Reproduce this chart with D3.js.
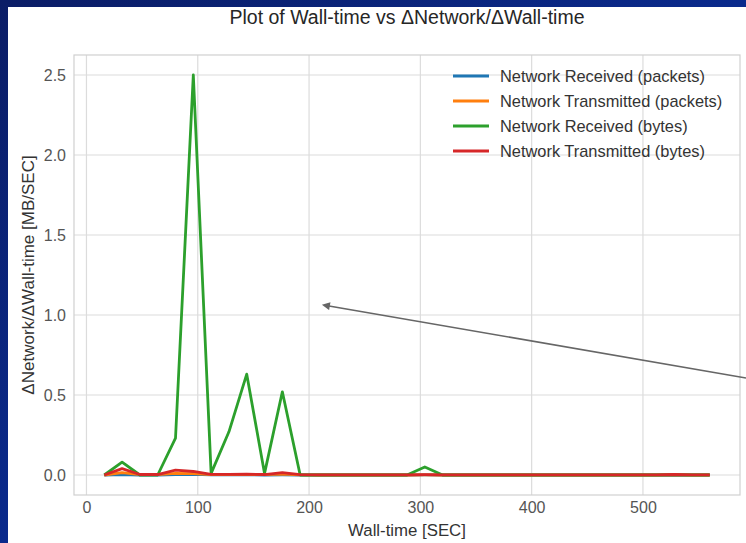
<!DOCTYPE html>
<html>
<head>
<meta charset="utf-8">
<script src="https://cdn.jsdelivr.net/npm/d3@7"></script>
<style>
  body { margin: 0; padding: 0; overflow: hidden; }
  svg { display: block; font-family: "Liberation Sans", Arial, sans-serif; }
</style>
</head>
<body>
<div id="draw-here"></div>
<script>
// wall-time samples (seconds)
var wallTime = [16, 32, 48, 64, 80, 96, 112, 128, 144, 160, 176, 192,
                208, 224, 240, 256, 272, 288, 304, 320, 336, 352, 368, 384,
                400, 416, 432, 448, 464, 480, 496, 512, 528, 544, 560];

// delta network / delta wall-time, MB/SEC
var recvPackets = [0, 0.003, 0, 0, 0.002, 0.004, 0.001, 0.001, 0.001, 0, 0.001, 0,
                   0, 0, 0, 0, 0, 0, 0.001, 0, 0, 0, 0, 0,
                   0, 0, 0, 0, 0, 0, 0, 0, 0, 0, 0];
var sentPackets = [0, 0.015, 0.002, 0.002, 0.01, 0.008, 0.002, 0.002, 0.004, 0.002, 0.006, 0.001,
                   0, 0, 0, 0, 0, 0, 0.001, 0, 0, 0, 0, 0,
                   0, 0, 0, 0, 0, 0, 0, 0, 0.002, 0, 0];
var recvBytes = [0, 0.08, 0, 0, 0.23, 2.5, 0.01, 0.27, 0.63, 0.01, 0.52, 0,
                 0, 0, 0, 0, 0, 0, 0.05, 0, 0, 0, 0, 0,
                 0, 0, 0, 0, 0, 0, 0, 0, 0, 0, 0];
var sentBytes = [0, 0.04, 0.003, 0.003, 0.03, 0.022, 0.004, 0.004, 0.005, 0.003, 0.015, 0.002,
                 0.001, 0.001, 0.001, 0.001, 0.001, 0.001, 0.002, 0.001, 0.001, 0.001, 0.001, 0.001,
                 0.001, 0.001, 0.001, 0.001, 0.001, 0.001, 0.001, 0.001, 0.003, 0.001, 0.001];

var seriesNames = ['Network Received (packets)', 'Network Transmitted (packets)',
                   'Network Received (bytes)', 'Network Transmitted (bytes)'];
var seriesColors = ['#1f77b4', '#ff7f0e', '#2ca02c', '#d62728'];
var seriesValues = [recvPackets, sentPackets, recvBytes, sentBytes];

var xTicks = [0, 100, 200, 300, 400, 500];
var yTicks = [0, 0.5, 1.0, 1.5, 2.0, 2.5];

var W = 746, H = 543;
var frame = { left: 74, right: 740, top: 55, bottom: 495 };

var svg = d3.select('#draw-here').append('svg')
    .attr('width', W)
    .attr('height', H);

// slide background
var defs = svg.append('defs');
var grad = defs.append('linearGradient')
    .attr('id', 'slide')
    .attr('x1', 0).attr('y1', 0).attr('x2', 1).attr('y2', 1);
grad.append('stop').attr('offset', '0%').attr('stop-color', '#0b1d66');
grad.append('stop').attr('offset', '50%').attr('stop-color', '#0a2a8c');
grad.append('stop').attr('offset', '100%').attr('stop-color', '#062a96');
svg.append('rect').attr('width', W).attr('height', H).attr('fill', 'url(#slide)');
svg.append('rect')
    .attr('x', 8).attr('y', 7)
    .attr('width', W - 8).attr('height', H - 7)
    .attr('fill', '#fff');

// scales, matplotlib style 5% margins
var xMin = d3.min(wallTime), xMax = d3.max(wallTime);
var xPad = (xMax - xMin) * 0.05;
var x = d3.scaleLinear()
    .domain([xMin - xPad, xMax + xPad])
    .range([frame.left, frame.right]);

var yMax = d3.max(recvBytes);
var yPad = yMax * 0.05;
var y = d3.scaleLinear()
    .domain([-yPad, yMax + yPad])
    .range([frame.bottom, frame.top]);

// grid
var grid = svg.append('g');
grid.selectAll('.vgrid').data(xTicks).enter().append('line')
    .attr('x1', function(d) { return x(d); })
    .attr('x2', function(d) { return x(d); })
    .attr('y1', frame.top).attr('y2', frame.bottom)
    .attr('stroke', '#dcdcdc').attr('stroke-width', 1.2);
grid.selectAll('.hgrid').data(yTicks).enter().append('line')
    .attr('y1', function(d) { return y(d); })
    .attr('y2', function(d) { return y(d); })
    .attr('x1', frame.left).attr('x2', frame.right)
    .attr('stroke', '#dcdcdc').attr('stroke-width', 1.2);

svg.append('rect')
    .attr('x', frame.left).attr('y', frame.top)
    .attr('width', frame.right - frame.left)
    .attr('height', frame.bottom - frame.top)
    .attr('fill', 'none')
    .attr('stroke', '#d0d0d0')
    .attr('stroke-width', 1.2);

// axes (labels only, no tick marks)
var xAxis = svg.append('g')
    .attr('transform', 'translate(0,' + frame.bottom + ')')
    .call(d3.axisBottom(x).tickValues(xTicks).tickSize(0).tickPadding(7)
      .tickFormat(d3.format('d')));
var yAxis = svg.append('g')
    .attr('transform', 'translate(' + frame.left + ',0)')
    .call(d3.axisLeft(y).tickValues(yTicks).tickSize(0).tickPadding(8)
      .tickFormat(d3.format('.1f')));
[xAxis, yAxis].forEach(function(a) {
  a.select('.domain').remove();
  a.selectAll('text')
    .attr('fill', '#555')
    .style('font-size', '16px')
    .style('font-family', '"Liberation Sans", Arial, sans-serif');
});

// lines
var line = d3.line()
    .x(function(d, i) { return x(wallTime[i]); })
    .y(function(d) { return y(d); });

svg.append('g').selectAll('path')
    .data(seriesValues)
    .enter().append('path')
    .attr('d', line)
    .attr('fill', 'none')
    .attr('stroke', function(d, i) { return seriesColors[i]; })
    .attr('stroke-width', 2.8)
    .attr('stroke-linejoin', 'round');

// legend
var legend = svg.append('g');
var rows = legend.selectAll('g').data(seriesNames).enter().append('g')
    .attr('transform', function(d, i) { return 'translate(453,' + (76 + i * 25) + ')'; });
rows.append('line')
    .attr('x1', 0).attr('x2', 36)
    .attr('stroke', function(d, i) { return seriesColors[i]; })
    .attr('stroke-width', 2.8);
rows.append('text')
    .attr('x', 47).attr('dy', '0.35em')
    .attr('fill', '#333')
    .style('font-size', '16.4px')
    .text(function(d) { return d; });

// titles
svg.append('text')
    .attr('x', (frame.left + frame.right) / 2)
    .attr('y', 24)
    .attr('text-anchor', 'middle')
    .attr('fill', '#262626')
    .style('font-size', '19.5px')
    .text('Plot of Wall-time vs \u0394Network/\u0394Wall-time');

svg.append('text')
    .attr('x', (frame.left + frame.right) / 2)
    .attr('y', 536)
    .attr('text-anchor', 'middle')
    .attr('fill', '#333')
    .style('font-size', '16.8px')
    .text('Wall-time [SEC]');

svg.append('text')
    .attr('transform', 'translate(34,' + ((frame.top + frame.bottom) / 2) + ') rotate(-90)')
    .attr('text-anchor', 'middle')
    .attr('fill', '#333')
    .style('font-size', '17px')
    .text('\u0394Network/\u0394Wall-time [MB/SEC]');

// slide annotation arrow
defs.append('marker')
    .attr('id', 'head')
    .attr('viewBox', '0 0 10 10')
    .attr('refX', 1).attr('refY', 5)
    .attr('markerWidth', 10).attr('markerHeight', 8)
    .attr('markerUnits', 'userSpaceOnUse')
    .attr('orient', 'auto-start-reverse')
    .append('path')
    .attr('d', 'M0,0 L10,5 L0,10 z')
    .attr('fill', '#666');
svg.append('line')
    .attr('x1', 746).attr('y1', 378)
    .attr('x2', 329).attr('y2', 306)
    .attr('stroke', '#666')
    .attr('stroke-width', 1.6)
    .attr('marker-end', 'url(#head)');
</script>
</body>
</html>
